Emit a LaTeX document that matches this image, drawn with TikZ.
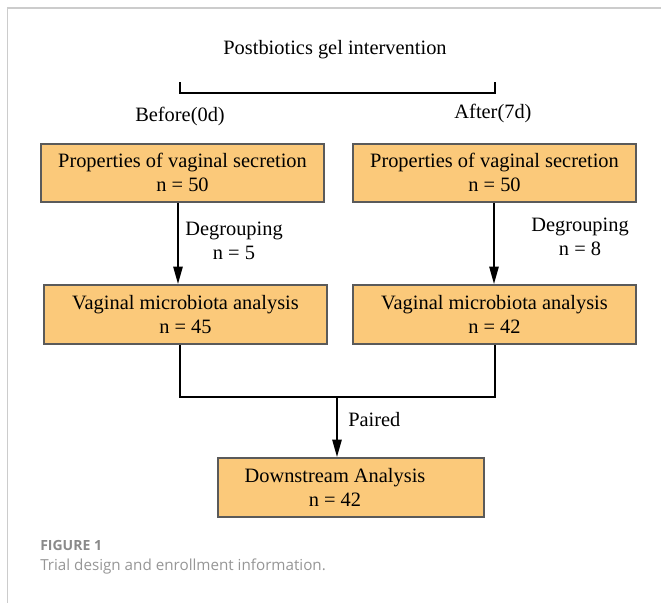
\documentclass[tikz,border=0pt]{standalone}
\usepackage{fontspec}
\setmainfont{Liberation Serif}
\newfontfamily\capfont{Open Sans}
\usetikzlibrary{arrows.meta}
\definecolor{boxfill}{HTML}{FBC97A}
\definecolor{boxline}{HTML}{5A5A5A}
\definecolor{framegray}{HTML}{CCCCCC}
\definecolor{capgray}{HTML}{8A8A8A}
\tikzset{
  flowbox/.style={draw=boxline, fill=boxfill, line width=1.5pt, inner sep=0pt,
    align=center, font=\fontsize{15.3}{18}\selectfont},
  lbl/.style={inner sep=0pt, align=center, font=\fontsize{15.3}{18}\selectfont},
  conn/.style={line width=1.1pt, draw=black},
  arr/.style={conn, -{Triangle[length=13pt,width=7pt]}}
}
\begin{document}
\begin{tikzpicture}[x=0.75pt,y=-0.75pt]
\useasboundingbox (0,0) rectangle (661,603);
\draw[framegray, line width=0.9pt] (7.5,603) -- (7.5,8) -- (661,8);

\node[lbl] (title) at (335,50) {Postbiotics gel intervention};
\coordinate (bl) at (180,82);
\coordinate (br) at (495,82);
\draw[conn] (bl) -- ++(0,11) -| (br);
\node[lbl] (before) at (180,116) {Before(0d)};
\node[lbl] (after) at (493,113) {After(7d)};

\node[flowbox, minimum width=283*0.75pt, minimum height=58*0.75pt] (b1) at (182.5,172.5)
  {Properties of vaginal secretion\\n = 50};
\node[flowbox, minimum width=283*0.75pt, minimum height=58*0.75pt] (b2) at (494.5,172.5)
  {Properties of vaginal secretion\\n = 50};
\node[flowbox, minimum width=283*0.75pt, minimum height=59*0.75pt] (b3) at (185.5,314.5)
  {Vaginal microbiota analysis\\n = 45};
\node[flowbox, minimum width=283*0.75pt, minimum height=59*0.75pt] (b4) at (494.5,314.5)
  {Vaginal microbiota analysis\\n = 42};
\node[flowbox, minimum width=266*0.75pt, minimum height=59*0.75pt] (b5) at (351,487.5) {};
\node[lbl] (b5text) at (335,487.5) {Downstream Analysis\\n = 42};

\draw[arr] (b1.south -| 178,0) -- (b3.north -| 178,0);
\draw[arr] (b2.south -| 494,0) -- (b4.north -| 494,0);
\node[lbl] (d1) at (234,241) {Degrouping\\n = 5};
\node[lbl] (d2) at (580,237) {Degrouping\\n = 8};

\coordinate (join) at (337,397);
\draw[conn] (b3.south -| 180,0) |- (join) -| (b4.south -| 495,0);
\draw[arr] (join) -- (b5.north -| join);
\node[lbl, anchor=west] (paired) at (348,420) {Paired};

\node[anchor=west, inner sep=0pt, text=capgray, font=\capfont\fontsize{10.5}{12}\selectfont\bfseries] (fig) at (40,545) {FIGURE 1};
\node[anchor=west, inner sep=0pt, text=capgray!90, font=\capfont\fontsize{11.4}{14}\selectfont] (cap) at (40,567) {Trial design and enrollment information.};
\end{tikzpicture}
\end{document}
